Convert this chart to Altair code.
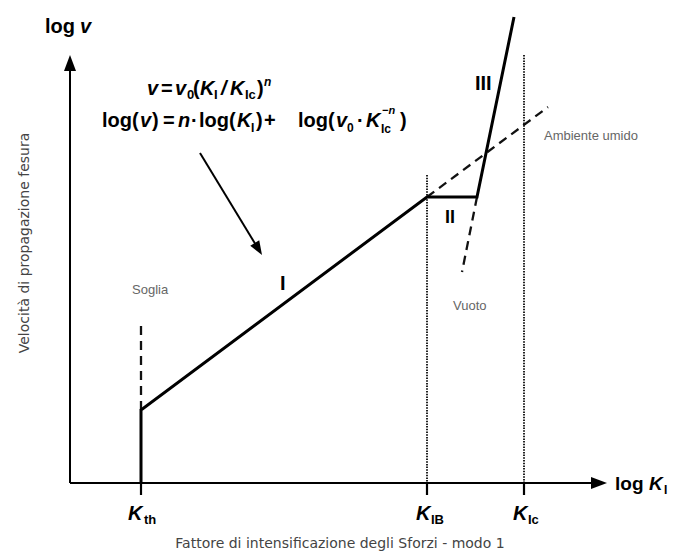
import altair as alt
import pandas as pd
import numpy as np

W, H = 683, 555
FONT = "Liberation Sans"

# ---- schematic coordinates (log K horizontally, log v vertically; y grows downward) ----
# characteristic stress-intensity factors on the log K axis
k_pos = [141, 427, 524]            # K_th, K_IB, K_Ic
axis_y0 = 483                      # position of the log K axis
axis_x0 = 70                       # position of the log v axis

# crack-growth curve: threshold, region I, plateau II, region III
curve_x = [141, 141, 427, 477, 514]
curve_y = [483, 410, 197, 197, 17]

# dashed extrapolations: threshold, region I (humid env.), region III (vacuum)
dash_x1 = [141, 427, 477]
dash_y1 = [410, 197, 197]
dash_x2 = [141, 548, 462]
dash_y2 = [322, 107, 272]

# dotted verticals at K_IB and K_Ic
dot_top = [175, 55]

# arrows: y axis, x axis, pointer to region I
arrow_x1 = [70, 70, 200]
arrow_y1 = [483, 483, 153]
arrow_x2 = [70, 607, 262]
arrow_y2 = [55, 483, 255]

# ---- texts ----
# (text, x, baseline, size, style)  style: b = bold, bi = bold italic
math_pieces = [
    ("v", 147, 95, 20, "bi"), ("=", 161, 95, 20, "b"), ("v", 175, 95, 20, "bi"),
    ("0", 187, 99, 13, "b"), ("(", 193, 95, 20, "b"), ("K", 200, 95, 20, "bi"),
    ("I", 214, 99, 13, "b"), ("/", 221, 95, 20, "bi"), ("K", 230, 95, 20, "bi"),
    ("Ic", 245, 99, 13, "b"), (")", 257, 95, 20, "b"), ("n", 264, 86, 12, "bi"),
    ("log(", 102, 127, 20, "b"), ("v", 140, 127, 20, "bi"), (")", 152, 127, 20, "b"),
    ("=", 163, 127, 20, "b"), ("n", 178, 127, 20, "bi"), ("·", 191, 127, 20, "b"),
    ("log(", 199, 127, 20, "b"), ("K", 237, 127, 20, "bi"), ("I", 251, 132, 12, "b"),
    (")", 256, 127, 20, "b"), ("+", 264, 127, 20, "b"),
    ("log(", 298, 127, 20, "b"), ("v", 336, 127, 20, "bi"),
    ("0", 347, 132, 12, "b"), ("·", 357, 127, 20, "b"), ("K", 366, 127, 20, "bi"),
    ("Ic", 381, 133, 12, "b"), ("−n", 382, 114, 11, "bi"), (")", 400, 127, 20, "b"),
    ("log", 45, 33, 20, "b"), ("v", 80, 33, 20, "bi"),
    ("K", 128, 520, 20, "bi"), ("th", 144, 524, 13, "b"),
    ("K", 416, 520, 20, "bi"), ("IB", 431, 524, 13, "b"),
    ("K", 513, 520, 20, "bi"), ("Ic", 528, 524, 13, "b"),
    ("log", 615, 490, 19, "b"), ("K", 649, 490, 19, "bi"), ("I", 664, 494, 12, "b"),
    ("I", 280, 290, 20, "b"), ("II", 445, 223, 18, "b"), ("III", 475, 90, 20, "b"),
]
grey_labels = ["Soglia", "Vuoto", "Ambiente umido"]
grey_x = [132, 453, 544]
grey_y = [294, 310, 140]

x_title = "Fattore di intensificazione degli Sforzi - modo 1"
y_title = "Velocità di propagazione fesura"

# ---- scales ----
xs = alt.Scale(domain=[0, W], nice=False, zero=False)
ys = alt.Scale(domain=[0, H], nice=False, zero=False, reverse=True)


def X(f):
    return alt.X(f, type="quantitative", scale=xs, axis=None)


def Y(f):
    return alt.Y(f, type="quantitative", scale=ys, axis=None)


def segs(x1, y1, x2, y2, **mk):
    df = pd.DataFrame({"x": x1, "y": y1, "x2": x2, "y2": y2})
    return alt.Chart(df).mark_rule(**mk).encode(
        x=X("x"), y=Y("y"), x2="x2", y2="y2")


# curve
curve_df = pd.DataFrame({"x": curve_x, "y": curve_y, "o": range(len(curve_x))})
curve = alt.Chart(curve_df).mark_line(
    color="black", strokeWidth=3, strokeJoin="miter", strokeCap="butt"
).encode(x=X("x"), y=Y("y"), order="o:Q")

# dashed extrapolations
dashed = segs(dash_x1, dash_y1, dash_x2, dash_y2, color="#111", strokeWidth=2.3,
              strokeDash=[9, 6])

# dotted verticals
dotted = segs(k_pos[1:], dot_top, k_pos[1:], [axis_y0] * 2, color="#222",
              strokeWidth=2, strokeDash=[1.5, 1.2])

# ticks
ticks = segs(k_pos, [axis_y0] * 3, k_pos, [axis_y0 + 12] * 3, color="black",
             strokeWidth=2.2)

# arrow shafts (stop short of the tip so the head covers it)
ax1 = np.array(arrow_x1, float)
ay1 = np.array(arrow_y1, float)
ax2 = np.array(arrow_x2, float)
ay2 = np.array(arrow_y2, float)
dx, dy = ax2 - ax1, ay2 - ay1
ln = np.hypot(dx, dy)
ex = ax2 - dx / ln * 12
ey = ay2 - dy / ln * 12
shafts = segs(list(ax1), list(ay1), list(ex), list(ey), color="black",
              strokeWidth=2)

angles = np.degrees(np.arctan2(dx, -dy)) % 360
heads_df = pd.DataFrame({"x": ax2, "y": ay2, "a": angles,
                         "s": [256, 256, 196]})
heads = alt.Chart(heads_df).mark_point(
    shape="M0,0L0.75,2L-0.75,2Z", filled=True, color="black", opacity=1,
    strokeWidth=0
).encode(x=X("x"), y=Y("y"), angle=alt.Angle("a:Q", scale=None),
         size=alt.Size("s:Q", scale=None))

# math / labels
mp = pd.DataFrame(math_pieces, columns=["t", "x", "y", "s", "k"])


def text_layer(df, **mk):
    return alt.Chart(df).mark_text(align="left", baseline="alphabetic",
                                   font=FONT, **mk).encode(
        x=X("x"), y=Y("y"), text="t:N", size=alt.Size("s:Q", scale=None))


t_bold = text_layer(mp[mp.k == "b"], fontWeight="bold", color="black")
t_boldit = text_layer(mp[mp.k == "bi"], fontWeight="bold", fontStyle="italic",
                      color="black")

grey_df = pd.DataFrame({"t": grey_labels, "x": grey_x, "y": grey_y,
                        "s": [13] * 3})
t_grey = text_layer(grey_df, color="#666")

xt = alt.Chart(pd.DataFrame({"t": [x_title], "x": [340], "y": [544]})).mark_text(
    font="DejaVu Sans", fontSize=14, color="#444", align="center",
    baseline="middle"
).encode(x=X("x"), y=Y("y"), text="t:N")
yt = alt.Chart(pd.DataFrame({"t": [y_title], "x": [25], "y": [243]})).mark_text(
    font="DejaVu Sans", fontSize=14, color="#444", align="center",
    baseline="middle", angle=270
).encode(x=X("x"), y=Y("y"), text="t:N")

chart = alt.layer(
    dotted, dashed, ticks, shafts, heads, curve,
    t_bold, t_boldit, t_grey, xt, yt
).properties(
    width=W, height=H, autosize=alt.AutoSizeParams(type="none"), padding=0,
    background="white"
).configure_view(stroke=None)

chart.save("out.html", embed_options={"renderer": "svg", "actions": False})
